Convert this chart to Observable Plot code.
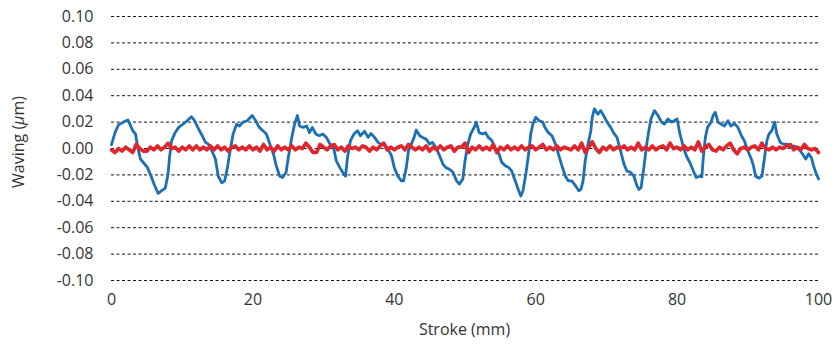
<!DOCTYPE html>
<html>
<head>
<meta charset="utf-8">
<script src="https://cdn.jsdelivr.net/npm/d3@7"></script>
<script src="https://cdn.jsdelivr.net/npm/@observablehq/plot@0.6"></script>
<style>
  html, body { margin: 0; padding: 0; background: #fff; }
</style>
</head>
<body>
<div id="chart"></div>
<script>
// Tick labels
const xTicks = [0, 20, 40, 60, 80, 100];
const yTicks = [-0.10, -0.08, -0.06, -0.04, -0.02, 0.00, 0.02, 0.04, 0.06, 0.08, 0.10];

// Blue series (stroke mm, waving µm)
const blueX = [0.0,0.5,1.0,1.7,2.3,2.6,3.0,3.4,3.7,4.1,4.5,5.1,5.6,6.1,6.6,7.1,7.6,8.0,8.2,8.5,9.0,9.5,10.0,10.7,11.3,11.7,12.2,12.7,13.3,13.7,14.2,14.7,15.1,15.6,16.0,16.4,16.7,17.2,17.7,18.1,18.6,19.2,19.9,20.4,20.9,21.5,21.9,22.4,22.9,23.3,23.8,24.2,24.7,25.0,25.5,25.9,26.3,26.6,27.1,27.6,28.0,28.4,28.9,29.4,29.9,30.4,30.9,31.4,31.8,32.3,32.8,33.1,33.4,33.8,34.3,34.8,35.2,35.8,36.3,36.7,37.2,37.7,38.1,38.6,39.1,39.6,40.0,40.5,41.0,41.3,41.7,42.0,42.4,42.8,43.1,43.6,44.0,44.5,45.0,45.4,45.9,46.4,46.9,47.3,47.8,48.3,48.8,49.2,49.7,50.0,50.4,50.8,51.3,51.6,52.0,52.5,52.9,53.3,53.8,54.4,54.8,55.2,55.7,56.2,56.6,57.1,57.6,57.9,58.2,58.6,59.0,59.3,59.6,60.0,60.5,61.0,61.3,61.8,62.3,62.8,63.2,63.7,64.2,64.6,65.1,65.6,66.1,66.4,66.7,67.0,67.4,67.8,68.0,68.3,68.8,69.2,69.6,70.1,70.6,71.0,71.5,72.0,72.5,72.9,73.4,73.9,74.3,74.6,74.9,75.3,75.7,76.0,76.3,76.8,77.3,77.8,78.2,78.7,79.2,79.6,80.0,80.4,80.9,81.3,81.8,82.3,82.7,83.2,83.5,83.7,84.0,84.3,84.8,85.1,85.4,85.8,86.2,86.7,87.2,87.6,88.1,88.6,89.1,89.5,90.0,90.5,90.8,91.1,91.6,92.0,92.4,92.7,93.0,93.4,93.8,94.1,94.6,95.0,95.5,96.0,96.5,96.9,97.4,97.9,98.2,98.6,99.0,99.3,99.6,100.0];
const blueY = [0.003,0.012,0.018,0.020,0.0216,0.0185,0.0135,0.011,0.001,-0.008,-0.0106,-0.0145,-0.021,-0.028,-0.034,-0.032,-0.030,-0.0195,-0.007,0.006,0.012,0.016,0.018,0.021,0.024,0.0216,0.016,0.011,0.0046,0.0033,-0.0017,-0.008,-0.021,-0.026,-0.0245,-0.0145,-0.004,0.011,0.0185,0.017,0.020,0.021,0.025,0.021,0.016,0.013,0.011,0.0033,-0.004,-0.013,-0.021,-0.022,-0.018,-0.007,0.0084,0.0185,0.025,0.017,0.016,0.017,0.012,0.016,0.011,0.0097,0.011,0.0084,0.0033,0.0008,-0.0094,-0.0145,-0.019,-0.021,-0.006,0.006,0.011,0.0135,0.0097,0.013,0.0084,0.0114,0.0084,0.0046,0.0033,0.0033,-0.0005,-0.0055,-0.0145,-0.021,-0.0245,-0.0245,-0.0145,-0.0017,0.0033,0.0084,0.014,0.0097,0.0084,0.0071,0.0033,0.0046,0.0008,-0.0055,-0.012,-0.0145,-0.0157,-0.018,-0.0245,-0.027,-0.023,-0.0094,0.0033,0.011,0.016,0.020,0.012,0.011,0.012,0.0084,0.006,-0.0017,-0.004,-0.0106,-0.013,-0.0145,-0.017,-0.0245,-0.032,-0.036,-0.032,-0.0195,-0.004,0.011,0.0185,0.0236,0.021,0.020,0.016,0.012,0.0097,0.0033,-0.004,-0.013,-0.021,-0.0245,-0.0245,-0.028,-0.032,-0.031,-0.0245,-0.0094,0.0033,0.0135,0.0236,0.030,0.026,0.0287,0.025,0.020,0.016,0.012,0.0084,-0.0017,-0.012,-0.017,-0.018,-0.021,-0.028,-0.031,-0.0297,-0.0145,0.0033,0.0135,0.0224,0.0287,0.025,0.020,0.0185,0.0224,0.020,0.021,0.0224,0.011,0.0008,-0.0055,-0.0106,-0.017,-0.022,-0.021,-0.0215,-0.007,0.0084,0.016,0.020,0.025,0.0274,0.020,0.0185,0.017,0.021,0.017,0.019,0.016,0.0097,0.006,-0.0017,-0.008,-0.013,-0.021,-0.0225,-0.021,-0.0055,0.006,0.011,0.0135,0.020,0.011,0.0046,0.0033,0.0033,0.0008,0.002,0.0008,-0.0017,-0.0055,-0.008,-0.004,-0.007,-0.013,-0.018,-0.023];

const redStep = 0.5;
const redY = [
-0.001,-0.003,0.000,-0.002,0.001,-0.001,-0.003,0.003,0.000,-0.002,
-0.002,0.001,-0.001,0.002,-0.001,0.001,0.004,0.000,0.001,-0.002,
0.001,-0.001,0.002,-0.001,0.002,-0.001,0.001,-0.001,0.002,-0.001,
0.002,-0.001,0.001,-0.002,0.001,0.002,-0.001,0.001,-0.001,0.002,
-0.001,0.001,-0.002,0.003,-0.001,0.001,-0.002,0.002,-0.001,0.001,
-0.001,0.002,-0.001,0.001,0.000,0.004,0.001,-0.003,-0.003,0.003,
0.001,-0.001,0.002,0.003,-0.001,0.001,-0.002,0.002,0.000,0.001,
-0.001,0.002,0.001,-0.002,0.001,-0.001,0.002,0.004,-0.001,0.001,
-0.001,0.001,0.002,-0.001,0.003,0.001,-0.001,0.001,-0.001,0.002,
-0.002,0.001,-0.001,0.002,-0.001,0.001,0.002,-0.002,0.001,0.001,
0.004,-0.003,0.001,-0.001,0.002,-0.001,0.001,-0.001,0.003,-0.003,
0.001,-0.001,0.002,-0.001,0.001,-0.001,0.002,-0.001,0.001,0.002,
-0.001,0.001,0.003,-0.001,0.001,-0.001,0.002,-0.001,0.001,0.000,
-0.001,0.002,-0.001,0.004,-0.003,0.001,0.005,0.000,-0.003,0.001,
-0.001,0.002,-0.001,0.001,0.000,0.002,-0.001,0.001,-0.001,0.004,
-0.001,0.001,-0.001,0.002,-0.001,0.001,0.002,-0.001,0.004,0.000,
0.001,-0.001,0.002,-0.001,0.001,-0.001,0.005,-0.002,0.001,0.003,
-0.001,-0.002,0.001,-0.001,0.002,0.004,-0.001,-0.004,0.000,0.001,
-0.001,0.001,0.002,-0.001,0.004,0.000,-0.001,0.001,-0.001,0.001,
0.000,0.002,0.003,-0.001,0.001,-0.001,0.003,0.000,-0.001,0.000,
-0.003];

const blue = blueX.map((x, i) => ({x, y: blueY[i]}));
const red = redY.map((y, i) => ({x: i * redStep, y}));

const FONT = "'Open Sans', 'DejaVu Sans', sans-serif";

const chart = Plot.plot({
  width: 832,
  height: 345,
  marginLeft: 111,
  marginRight: 14,
  marginTop: 16,
  marginBottom: 65,
  style: {fontFamily: FONT, fontSize: "16px", color: "#333", background: "#fff"},
  x: {domain: [0, 100], ticks: xTicks, tickSize: 0, tickPadding: 13, label: null},
  y: {domain: [-0.1, 0.1], ticks: yTicks, tickSize: 0, tickPadding: 18, label: null,
      tickFormat: d => d.toFixed(2)},
  marks: [
    Plot.ruleY(yTicks, {stroke: "#111", strokeWidth: 1, strokeDasharray: "3,2.5"}),
    Plot.line(blue, {x: "x", y: "y", stroke: "#1a6fb6", strokeWidth: 2.8, curve: "linear"}),
    Plot.line(red, {x: "x", y: "y", stroke: "#e0252c", strokeWidth: 3.7, curve: "linear"})
  ]
});

const svg = d3.select(chart);
svg.append("text")
  .attr("x", 464.5).attr("y", 335)
  .attr("text-anchor", "middle")
  .attr("fill", "#333")
  .style("font-family", FONT).style("font-size", "16px")
  .text("Stroke (mm)");
const yt = svg.append("text")
  .attr("transform", "translate(24,142) rotate(-90)")
  .attr("text-anchor", "middle")
  .attr("fill", "#333")
  .style("font-family", FONT).style("font-size", "16px");
yt.append("tspan").text("Waving (");
yt.append("tspan").style("font-style", "italic").text("μ");
yt.append("tspan").text("m)");

document.getElementById("chart").appendChild(chart);
</script>
</body>
</html>
